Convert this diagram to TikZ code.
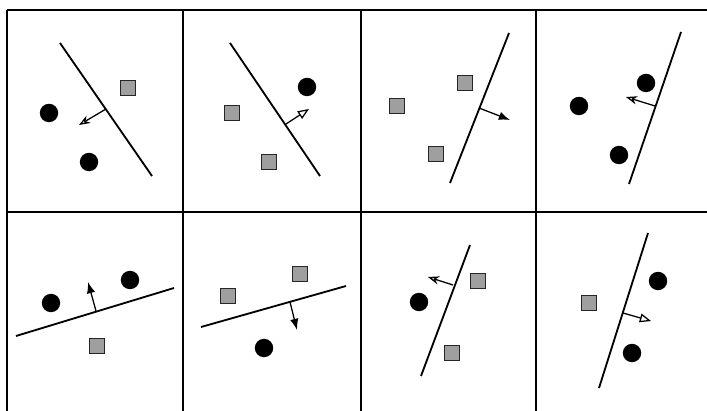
\documentclass[tikz,border=0pt]{standalone}
\usetikzlibrary{arrows.meta}

\tikzset{
    blob/.style = {circle, fill = black, inner sep = 0pt, minimum size = 4.6mm},
    tile/.style = {rectangle, draw = black!85, fill = gray!75, line width = 1.2pt, inner sep = 0pt, minimum size = 3.8mm},
    sep/.style = {line width = 1.3pt},
    nrm/.style = {line width = 0.9pt},
    frame/.style = {line width = 1.4pt}
}

\begin{document}
\begin{tikzpicture}[x = 0.025cm, y = -0.025cm]
    \useasboundingbox (0, 0) rectangle (707, 411);

    % grid
    \coordinate (TL) at (7, 10);
    \coordinate (TR) at (707, 10);
    \coordinate (ML) at (7, 212);
    \coordinate (MR) at (707, 212);
    \draw[frame] (TL) -- (TR);
    \draw[frame] (ML) -- (MR);
    \foreach \x in {7, 183, 361, 536} {
        \draw[frame] (\x, 10) -- (\x, 411);
    }

    % cell 1
    \coordinate (a1) at (60, 43);
    \coordinate (a2) at (152, 176);
    \coordinate (a3) at (106, 109);
    \coordinate (a4) at (79, 125);
    \node[tile] (A1) at (128, 88) {};
    \node[blob] (A2) at (49, 113) {};
    \node[blob] (A3) at (89, 162) {};
    \draw[sep] (a1) -- (a2);
    \draw[nrm, -{Stealth[open, length = 2.8mm]}] (a3) -- (a4);

    % cell 2
    \coordinate (b1) at (230, 43);
    \coordinate (b2) at (320, 176);
    \coordinate (b3) at (286, 124);
    \coordinate (b4) at (309, 109);
    \node[blob] (B1) at (307, 87) {};
    \node[tile] (B2) at (232, 113) {};
    \node[tile] (B3) at (269, 162) {};
    \draw[sep] (b1) -- (b2);
    \draw[nrm, -{Triangle[open, length = 2.8mm, width = 2.2mm]}] (b3) -- (b4);

    % cell 3
    \coordinate (c1) at (509, 33);
    \coordinate (c2) at (450, 183);
    \coordinate (c3) at (479, 108);
    \coordinate (c4) at (510, 120);
    \node[tile] (C1) at (465, 83) {};
    \node[tile] (C2) at (397, 106) {};
    \node[tile] (C3) at (436, 154) {};
    \draw[sep] (c1) -- (c2);
    \draw[nrm, -{Latex[length = 2.8mm]}] (c3) -- (c4);

    % cell 4
    \coordinate (d1) at (681, 32);
    \coordinate (d2) at (629, 184);
    \coordinate (d3) at (655, 106);
    \coordinate (d4) at (626, 97);
    \node[blob] (D1) at (646, 83) {};
    \node[blob] (D2) at (579, 106) {};
    \node[blob] (D3) at (619, 155) {};
    \draw[sep] (d1) -- (d2);
    \draw[nrm, -{Stealth[open, length = 2.8mm]}] (d3) -- (d4);

    % cell 5
    \coordinate (e1) at (16, 336);
    \coordinate (e2) at (174, 288);
    \coordinate (e3) at (96, 311);
    \coordinate (e4) at (88, 282);
    \node[blob] (E1) at (51, 303) {};
    \node[blob] (E2) at (130, 280) {};
    \node[tile] (E3) at (97, 346) {};
    \draw[sep] (e1) -- (e2);
    \draw[nrm, -{Latex[length = 2.8mm]}] (e3) -- (e4);

    % cell 6
    \coordinate (f1) at (201, 327);
    \coordinate (f2) at (346, 286);
    \coordinate (f3) at (290, 302);
    \coordinate (f4) at (297, 330);
    \node[tile] (F1) at (228, 296) {};
    \node[tile] (F2) at (300, 274) {};
    \node[blob] (F3) at (264, 348) {};
    \draw[sep] (f1) -- (f2);
    \draw[nrm, -{Latex[length = 2.8mm]}] (f3) -- (f4);

    % cell 7
    \coordinate (g1) at (470, 245);
    \coordinate (g2) at (421, 376);
    \coordinate (g3) at (453, 285);
    \coordinate (g4) at (428, 277);
    \node[tile] (G1) at (478, 281) {};
    \node[tile] (G2) at (452, 353) {};
    \node[blob] (G3) at (419, 302) {};
    \draw[sep] (g1) -- (g2);
    \draw[nrm, -{Stealth[open, length = 2.8mm]}] (g3) -- (g4);

    % cell 8
    \coordinate (h1) at (648, 233);
    \coordinate (h2) at (599, 388);
    \coordinate (h3) at (623, 313);
    \coordinate (h4) at (651, 321);
    \node[blob] (H1) at (658, 281) {};
    \node[blob] (H2) at (632, 353) {};
    \node[tile] (H3) at (589, 303) {};
    \draw[sep] (h1) -- (h2);
    \draw[nrm, -{Triangle[open, length = 2.8mm, width = 2.2mm]}] (h3) -- (h4);
\end{tikzpicture}
\end{document}
